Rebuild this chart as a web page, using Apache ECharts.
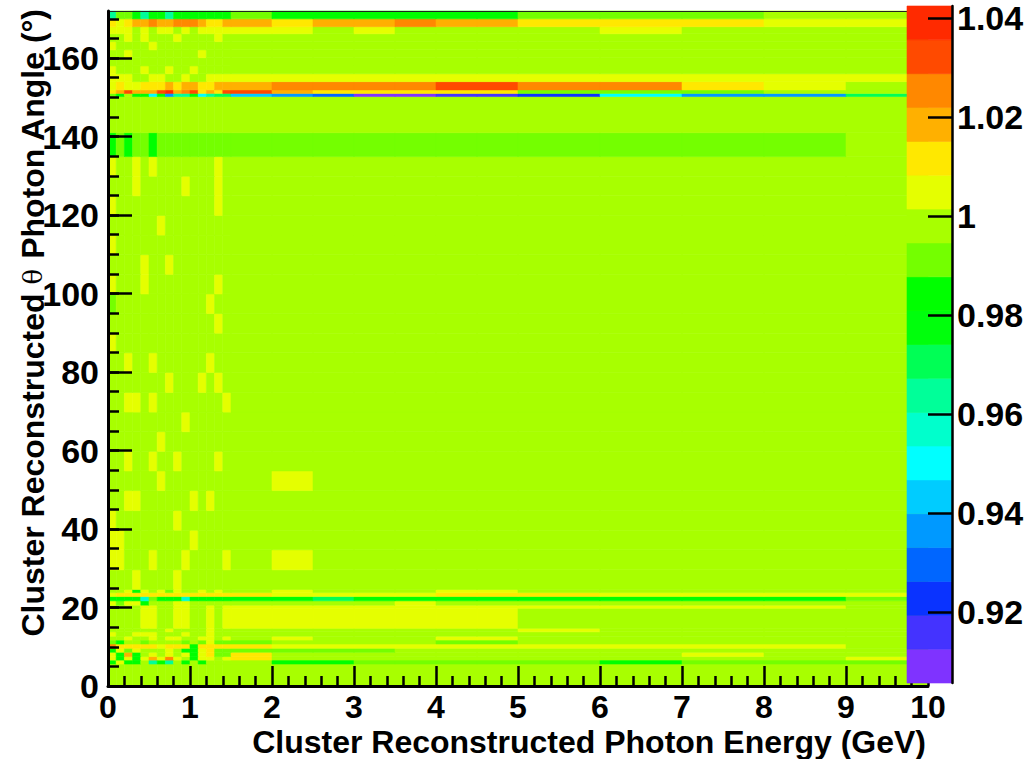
<!DOCTYPE html>
<html>
<head>
<meta charset="utf-8">
<script src="https://cdn.jsdelivr.net/npm/echarts@6/dist/echarts.min.js"></script>
<style>html,body{margin:0;padding:0;background:#fff}#c{width:1027px;height:759px}</style>
</head>
<body>
<div id="c"></div>
<script>
// ---------- data ----------
const xEdges = [0,0.1,0.2,0.3,0.4,0.5,0.6,0.7,0.8,0.9,1.0,1.1,1.2,1.3,1.4,1.5,2.0,2.5,3.0,3.5,4.0,4.5,5,6,7,8,9,10];
const yEdges = [0,5.6,6.6,7.5,8.6,9.6,10.7,11.7,12.7,13.8,14.7,19.8,20.6,21.7,22.8,23.8,24.6,
  29.6,34.7,39.7,44.7,49.8,54.8,59.8,64.8,69.8,74.8,79.9,84.9,89.9,94.9,99.9,104.9,109.9,114.9,119.9,124.9,129.9,134.9,
  141.0,150.2,151.0,151.9,154.0,156.0,158.0,160.1,162.1,164.2,166.2,168.0,170.0,172.0];
const xTicks = [0,1,2,3,4,5,6,7,8,9,10];
const yTicks = [0,20,40,60,80,100,120,140,160];
const yMinorTicks = [0,5,10,15,20,25,30,35,40,45,50,55,60,65,70,75,80,85,90,95,100,105,110,115,120,125,130,135,140,145,150,155,160,165,170];
const zTicks = [0.92,0.94,0.96,0.98,1.00,1.02,1.04];
const zMin = 0.9057, zMax = 1.0425;
const paletteColors = ['#7f33ff','#4433ff','#0a33ff','#0066ff','#0099ff','#00ccff','#00ffff','#00ffcc','#00ff99','#00ff55',
  '#00ff0c','#00ff00','#74ff00','#a8ff00','#e5ff00','#ffe800','#ffb000','#ff8800','#ff4a00','#ff2a00'];
// cell values, one row per theta bin (bottom to top), 27 energy bins per row
const cellValues = [
 [.998,.998,.998,.998,.998,.998,.998,.998,.998, .998,.998,.998,.998,.998,.998,.998,.998,.998, .998,.998,.998,.998,.998,.998,.998,.998,.998],
 [.983,1.005,.983,.983,.998,.964,.983,.964,.998, .983,.998,.983,.998,.998,.998,.998,.983,.983, .991,.991,.991,.991,.991,.983,.991,.991,.991],
 [1.005,.983,1.005,.983,1.005,1.019,1.005,1.025,1.005, .998,.983,1.005,1.005,.998,1.005,1.012,.998,.998, .998,.998,.998,.998,.998,.998,.998,.998,1.005],
 [1.005,.983,1.019,.983,.998,1.005,.998,1.005,.998, 1.005,.983,1.005,1.012,.991,.991,1.012,.998,.998, .998,.998,.998,.998,.998,.998,1.005,.998,.998],
 [.983,1.005,.991,1.005,.998,.998,.998,1.005,.998, .983,.983,1.005,1.012,.991,.991,.991,.991,.991, .991,.998,.998,.998,.998,.998,.998,.998,.998],
 [1.025,1.012,1.012,1.012,1.012,1.012,1.005,1.012,1.012, 1.012,.983,1.012,1.012,1.012,1.012,1.012,1.005,1.005, 1.005,1.005,1.005,1.005,1.005,1.005,1.005,1.005,.998],
 [.991,.983,.998,.998,.991,.998,.998,.998,.998, .991,.998,.991,1.005,.991,.991,.991,.998,.998, .998,.998,.991,.991,.998,.998,.998,.998,.998],
 [.998,.998,1.005,.998,.998,1.005,.998,1.005,1.005, .998,.998,1.005,1.005,.998,1.005,.998,1.005,.998, .998,.998,1.005,1.005,.998,.998,.998,.998,.998],
 [1.005,.998,.998,1.005,1.005,1.005,.998,.998,.998, 1.005,.998,.998,1.005,.998,.998,.998,.998,.998, .998,.998,.998,.998,.998,.998,.998,.998,.998],
 [.998,.998,.998,.998,.998,.998,.998,1.005,.998, .998,.998,.998,1.005,.998,.998,.998,.998,.998, .998,.998,.998,.998,1.005,.998,.998,.998,.998],
 [.998,.998,.998,.998,1.005,1.005,.998,.998,1.005, 1.005,.998,.998,1.005,.998,1.005,1.005,1.005,1.005, 1.005,1.005,1.005,1.005,.998,.998,.998,.998,.998],
 [.998,.998,.998,.998,1.005,1.005,.998,.998,1.005, 1.005,.998,.998,1.005,.998,1.005,1.005,1.005,1.005, 1.005,1.005,1.005,1.005,1.005,1.005,1.005,1.005,.998],
 [1.005,.991,1.005,1.005,.983,.998,.998,.998,1.005, 1.005,.998,.998,.998,.998,.998,.998,.998,.998, .998,1.005,.998,.998,.998,.998,.998,.998,.998],
 [.983,.983,.983,.983,.957,.991,.983,.983,.983, .957,.983,.983,.983,.983,.983,.983,.983,.970, .983,.983,.983,.983,.983,.983,.983,.983,.991],
 [1.005,1.012,1.012,1.012,1.012,1.012,1.012,1.012,1.012, 1.012,1.012,1.012,1.012,1.012,1.012,1.012,1.005,1.005, 1.005,1.005,1.012,1.012,1.012,1.005,1.005,1.005,1.005],
 [.998,.998,1.005,.983,1.005,.998,1.005,.991,1.005, .998,.998,1.005,.998,1.005,.998,.998,1.005,.998, .998,.998,1.005,1.005,.998,.998,.998,.998,.998],
 [.998,.998,.998,1.005,.998,.998,.998,.998,1.005, .998,.998,.998,.998,.998,.998,.998,.998,.998, .998,.998,.998,.998,.998,.998,.998,.998,.998],
 [1.005,1.005,.998,.998,.998,1.005,.998,.998,.998, 1.005,.998,.998,.998,.998,1.005,.998,1.005,.998, .998,.998,.998,.998,.998,.998,.998,.998,.998],
 [1.005,1.005,.998,.998,.998,.998,.998,.998,.998, .998,1.005,.998,.998,.998,.998,.998,.998,.998, .998,.998,.998,.998,.998,.998,.998,.998,.998],
 [1.005,.998,.998,.998,.998,.998,.998,.998,1.005, .998,.998,.998,.998,.998,.998,.998,.998,.998, .998,.998,.998,.998,.998,.998,.998,.998,.998],
 [.998,.998,1.005,1.005,.998,.998,.998,.998,.998, .998,1.005,.998,1.005,.998,.998,.998,.998,.998, .998,.998,.998,.998,.998,.998,.998,.998,.998],
 [.998,.998,.998,.998,.998,.998,1.005,.998,.998, .998,.998,.998,.998,.998,.998,.998,1.005,.998, .998,.998,.998,.998,.998,.998,.998,.998,.998],
 [.998,.998,1.005,.998,.998,1.005,.998,.998,1.005, .998,.998,.998,.998,1.005,.998,.998,.998,.998, .998,.998,.998,.998,.998,.998,.998,.998,.998],
 [.998,.998,.998,.998,.998,.998,1.005,.998,.998, .998,.998,.998,.998,.998,.998,.998,.998,.998, .998,.998,.998,.998,.998,.998,.998,.998,.998],
 [.998,.998,.998,.998,.998,.998,.998,.998,.998, 1.005,.998,.998,.998,.998,.998,.998,.998,.998, .998,.998,.998,.998,.998,.998,.998,.998,.998],
 [.998,.998,1.005,1.005,.998,1.005,.998,.998,.998, .998,.998,.998,.998,.998,1.005,.998,.998,.998, .998,.998,.998,.998,.998,.998,.998,.998,.998],
 [.998,.998,.998,.998,.998,.998,.998,1.005,.998, .998,.998,1.005,.998,1.005,.998,.998,.998,.998, .998,.998,.998,.998,.998,.998,.998,.998,.998],
 [.998,.998,1.005,.998,.998,1.005,.998,.998,.998, .998,.998,.998,1.005,.998,.998,.998,.998,.998, .998,.998,.998,.998,.998,.998,.998,.998,.998],
 [1.005,.998,.998,.998,.998,.998,.998,.998,.998, .998,.998,.998,.998,.998,.998,.998,.998,.998, .998,.998,.998,.998,.998,.998,.998,.998,.998],
 [.998,.998,.998,.998,.998,.998,.998,.998,.998, .998,.998,.998,.998,1.005,.998,.998,.998,.998, .998,.998,.998,.998,.998,.998,.998,.998,.998],
 [.991,.998,.998,.998,.998,.998,.998,.998,.998, .998,.998,.998,1.005,.998,.998,.998,.998,.998, .998,.998,.998,.998,.998,.998,.998,.998,.998],
 [1.005,.998,.998,.998,1.005,.998,.998,.998,.998, .998,.998,.998,.998,1.005,.998,.998,.998,.998, .998,.998,.998,.998,.998,.998,.998,.998,.998],
 [.998,.998,.998,.998,1.005,.998,.998,1.005,.998, .998,.998,.998,.998,.998,.998,.998,.998,.998, .998,.998,.998,.998,.998,.998,.998,.998,.998],
 [1.005,.998,.998,.998,.998,.998,.998,.998,.998, .998,.998,.998,.998,.998,.998,.998,.998,.998, .998,.998,.998,.998,.998,.998,.998,.998,.998],
 [.998,.998,.998,.998,.998,.998,1.005,.998,.998, .998,.998,.998,.998,.998,.998,.998,.998,.998, .998,.998,.998,.998,.998,.998,.998,.998,.998],
 [1.005,.998,.998,.998,.998,.998,.998,.998,.998, .998,.998,.998,.998,1.005,.998,.998,.998,.998, .998,.998,.998,.998,.998,.998,.998,.998,.998],
 [.998,.998,.998,1.005,.998,.998,.998,.998,.998, 1.005,.998,.998,.998,1.005,.998,.998,.998,.998, .998,.998,.998,.998,.998,.998,.998,.998,.998],
 [1.005,.998,.998,1.005,.998,1.005,.998,.998,.998, .998,.998,.998,.998,1.005,.998,.998,.998,.998, .998,.998,.998,.998,.998,.998,.998,.998,.998],
 [.983,.991,.983,.991,.991,.983,.991,.991,.991, .991,.991,.991,.991,.991,.991,.991,.991,.991, .991,.991,.991,.991,.991,.991,.991,.991,.998],
 [.998,.998,.998,.998,.998,.998,.998,.998,.998, .998,.998,.998,.998,.998,.998,.998,.998,.998, .998,.998,.998,.998,.998,.998,.998,.998,.998],
 [.991,.983,.998,.983,.983,.950,.983,.936,.964, .964,.983,.950,.964,.970,.970,.943,.936,.930, .909,.909,.916,.916,.923,.950,.936,.936,.970],
 [1.012,1.019,1.032,1.019,1.019,1.019,1.032,1.039,1.019, 1.025,1.032,1.012,1.019,1.012,1.032,1.032,1.019,1.012, 1.012,1.012,1.012,1.012,.991,.991,.991,.998,.998],
 [1.005,1.012,1.005,1.005,1.012,1.012,1.012,1.019,1.012, 1.019,1.019,1.012,1.012,1.019,1.019,1.019,1.025,1.025, 1.025,1.025,1.032,1.032,1.025,1.025,1.012,1.005,.998],
 [1.005,1.005,1.005,.998,.998,1.005,1.005,.998,.998, 1.005,.998,.998,1.005,1.005,1.005,1.005,1.005,1.005, 1.005,1.005,1.005,1.005,1.005,1.005,1.005,1.005,1.005],
 [1.005,.998,.998,.998,1.005,.998,.998,1.005,.998, .998,1.005,.998,.998,.998,.998,.998,.998,.998, .998,.998,.998,.998,.998,.998,.998,.998,.998],
 [.998,.998,.998,.998,.998,.998,.998,.998,.998, .998,.998,.998,.998,.998,.998,.998,.998,.998, .998,.998,.998,.998,.998,.998,.998,.998,.998],
 [.998,.998,1.005,.998,.998,.998,.998,.998,.998, .998,.998,1.005,.998,.998,.998,.998,.998,.998, .998,.998,.998,.998,.998,.998,.998,.998,.998],
 [1.005,.998,.998,.998,.998,1.005,.998,.998,.998, .998,.998,.998,.998,.998,.998,.998,.998,.998, .998,.998,.998,.998,.998,.998,.998,.998,.998],
 [.998,.998,1.005,.998,1.005,.998,.998,.998,1.005, .998,.998,.998,.998,1.005,.998,.998,.998,.998, .998,.998,.998,.998,.998,.998,.998,.998,.998],
 [1.005,1.005,1.005,.998,1.005,.998,1.005,1.005,.998, 1.005,.998,1.005,1.005,1.005,1.005,1.005,1.005,.998, 1.005,.998,.998,.998,.998,1.005,.998,.998,.998],
 [1.012,1.005,1.012,1.019,1.019,1.025,1.019,1.019,1.025, 1.025,1.025,1.019,1.012,1.012,1.019,1.019,1.012,1.019, 1.019,1.025,1.019,1.019,1.012,1.012,1.012,1.005,1.005],
 [.964,.991,.991,.983,.964,.983,.983,.964,.983, .983,.983,.983,.983,.983,.983,.991,.983,.983, .983,.983,.983,.983,.991,.991,.991,.998,.998]
];
const xTitle = 'Cluster Reconstructed Photon Energy (GeV)';
const yTitle = 'Cluster Reconstructed {t|θ} Photon Angle (°)';

// ---------- build ----------
const FONT = '"Liberation Sans", Arial, Helvetica, sans-serif';
const step = (zMax - zMin) / paletteColors.length;
const pieces = paletteColors.map((c, k) => ({ gte: zMin + k * step, lt: zMin + (k + 1) * step, color: c }));
const cells = [];
cellValues.forEach((row, r) => row.forEach((v, c) => {
  cells.push([xEdges[c], xEdges[c + 1], yEdges[r], yEdges[r + 1], v]);
}));
const paletteData = paletteColors.map((c, k) => [0, 1, zMin + k * step, zMin + (k + 1) * step, k]);

const labelStyle = { color: '#000', fontSize: 34, fontWeight: 'bold', fontFamily: FONT, lineHeight: 20 };
const tickLine = { color: '#000', width: 2.5 };

const chart = echarts.init(document.getElementById('c'), null, { renderer: 'svg', width: 1027, height: 759 });
chart.setOption({
  animation: false,
  backgroundColor: '#fff',
  grid: [
    { left: 108, top: 11, width: 820, height: 675, show: false },
    { left: 907, top: 6, width: 45, height: 677, show: false }
  ],
  xAxis: [
    { gridIndex: 0, type: 'value', min: 0, max: 10, interval: 1, position: 'bottom', z: 5,
      axisLine: { show: true, onZero: false, lineStyle: { color: '#000', width: 3 } },
      axisTick: { show: true, inside: true, length: 20, lineStyle: tickLine },
      minorTick: { show: true, splitNumber: 5, length: 10, lineStyle: tickLine },
      splitLine: { show: false }, minorSplitLine: { show: false },
      axisLabel: Object.assign({}, labelStyle, { margin: 11, fontSize: 32, customValues: xTicks }) },
    { gridIndex: 0, type: 'value', min: 0, max: 10, position: 'top', z: 4,
      axisLine: { show: true, onZero: false, lineStyle: { color: '#222', width: 1 } },
      axisTick: { show: false }, axisLabel: { show: false }, splitLine: { show: false } },
    { gridIndex: 1, type: 'value', min: 0, max: 1, show: false,
      axisLine: { onZero: false } }
  ],
  yAxis: [
    { gridIndex: 0, type: 'value', min: 0, max: 172, position: 'left', z: 5,
      axisLine: { show: true, onZero: false, lineStyle: { color: '#000', width: 3 } },
      axisTick: { show: true, inside: true, length: 24, customValues: yTicks, lineStyle: tickLine },
      axisLabel: Object.assign({ margin: 9, customValues: yTicks }, labelStyle),
      splitLine: { show: false } },
    { gridIndex: 0, type: 'value', min: 0, max: 172, position: 'left', z: 5,
      axisLine: { show: false, onZero: false },
      axisTick: { show: true, inside: true, length: 11, customValues: yMinorTicks, lineStyle: tickLine },
      axisLabel: { show: false }, splitLine: { show: false } },
    { gridIndex: 1, type: 'value', min: zMin, max: zMax, position: 'right', z: 12,
      axisLine: { show: true, onZero: false, lineStyle: { color: '#000', width: 2.5 } },
      axisTick: { show: true, inside: true, length: 24, customValues: zTicks, lineStyle: tickLine },
      axisLabel: Object.assign({ margin: 5, customValues: zTicks,
        formatter: v => String(+(+v).toFixed(2)) }, labelStyle),
      splitLine: { show: false } }
  ],
  visualMap: { type: 'piecewise', show: false, dimension: 4, seriesIndex: 0, pieces: pieces },
  series: [
    { type: 'custom', xAxisIndex: 0, yAxisIndex: 0, z: 2, data: cells,
      dimensions: ['x0', 'x1', 'y0', 'y1', 'z'],
      encode: { x: [0, 1], y: [2, 3] },
      renderItem: function (params, api) {
        const p0 = api.coord([api.value(0), api.value(3)]);
        const p1 = api.coord([api.value(1), api.value(2)]);
        const col = api.visual('color');
        return { type: 'rect', shape: { x: p0[0], y: p0[1], width: p1[0] - p0[0], height: p1[1] - p0[1] },
          style: { fill: col, stroke: col, lineWidth: 0.6 } };
      } },
    { type: 'custom', xAxisIndex: 2, yAxisIndex: 2, z: 10, data: paletteData,
      encode: { x: [0, 1], y: [2, 3] },
      renderItem: function (params, api) {
        const p0 = api.coord([0, api.value(3)]);
        const p1 = api.coord([1, api.value(2)]);
        const col = paletteColors[api.value(4)];
        return { type: 'rect', shape: { x: p0[0], y: p0[1], width: p1[0] - p0[0], height: p1[1] - p0[1] },
          style: { fill: col, stroke: col, lineWidth: 0.6 } };
      } }
  ],
  graphic: [
    { type: 'text', x: 926, y: 742, z: 20,
      style: { text: xTitle, fill: '#000', font: 'bold 32px ' + FONT,
        align: 'right', verticalAlign: 'middle', textAlign: 'right', textVerticalAlign: 'middle' } },
    { type: 'text', x: 33, y: 9, z: 20, rotation: Math.PI / 2,
      style: { text: yTitle, fill: '#000', font: 'bold 32px ' + FONT,
        rich: { t: { font: '26px "DejaVu Serif", serif', fill: '#000' } },
        align: 'right', verticalAlign: 'middle', textAlign: 'right', textVerticalAlign: 'middle' } }
  ]
});
</script>
</body>
</html>
